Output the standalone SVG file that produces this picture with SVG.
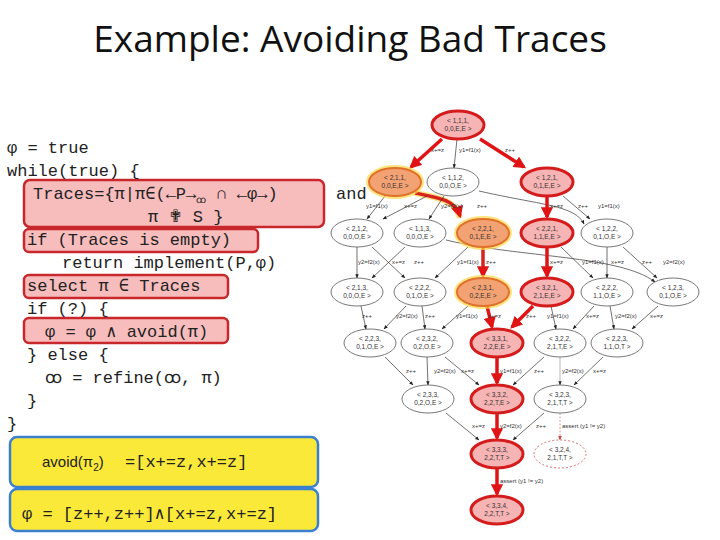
<svg xmlns="http://www.w3.org/2000/svg" width="720" height="540" viewBox="0 0 720 540">
<style>
.code{font-family:"Liberation Mono","DejaVu Sans Mono",monospace;font-size:17px;fill:#222}
.hb{fill:#f7bcbc;stroke:#c8282c;stroke-width:2.5}
.yb{fill:#fbe93a;stroke:#3a7fd0;stroke-width:2.5}
.n{fill:#fff;stroke:#555;stroke-width:0.8}
.r{fill:#f7b4b4;stroke:#d41c1c;stroke-width:3}
.o{fill:#f3a273;stroke:#e0702a;stroke-width:2}
.og{fill:none;stroke:#ffd84a;stroke-width:6;opacity:0.7}
.d{fill:#fff;stroke:#d06060;stroke-width:0.9;stroke-dasharray:2,2}
.nt{font-family:"Liberation Sans",Arial,sans-serif;font-size:6.5px;fill:#333;text-anchor:middle}
.e{stroke:#333;stroke-width:0.7;fill:none;marker-end:url(#ab)}
.el{stroke:#999;stroke-width:0.7;fill:none;marker-end:url(#ab)}
.er{stroke:#e01414;stroke-width:3.5;fill:none;marker-end:url(#ar)}
.eo{stroke:#d8221c;stroke-width:3.5;fill:none;marker-end:url(#ar)}
.ed{stroke:#e08080;stroke-width:0.8;fill:none;stroke-dasharray:2,1.5;marker-end:url(#ad)}
.lb{font-family:"Liberation Sans",Arial,sans-serif;font-size:6px;fill:#333}
</style>
<defs>
<marker id="ab" viewBox="0 0 10 10" refX="9" refY="5" markerWidth="6" markerHeight="6" orient="auto"><path d="M0,1L10,5L0,9z" fill="#222"/></marker>
<marker id="ar" viewBox="0 0 10 10" refX="8" refY="5" markerWidth="3.5" markerHeight="3.5" orient="auto"><path d="M0,0L10,5L0,10z" fill="#e01414"/></marker>
<marker id="ad" viewBox="0 0 10 10" refX="9" refY="5" markerWidth="6" markerHeight="6" orient="auto"><path d="M0,1L10,5L0,9z" fill="#d04040"/></marker>
</defs>
<rect width="720" height="540" fill="#fff"/>
<text x="350" y="52" text-anchor="middle" font-family="'Open Sans','Liberation Sans',sans-serif" font-size="37" fill="#111">Example: Avoiding Bad Traces</text>

<g id="code">
<rect class="hb" x="24" y="180" width="300" height="47" rx="6"/>
<rect class="hb" x="24" y="229" width="234" height="23" rx="5"/>
<rect class="hb" x="24" y="275" width="204" height="23" rx="5"/>
<rect class="hb" x="24" y="318" width="204" height="25" rx="5"/>
<text class="code" x="7" y="153">φ = true</text>
<text class="code" x="7" y="176">while(true) {</text>
<text class="code" x="33" y="199">Traces={π|π∈(←P→<tspan font-size="10" dy="4">ꝏ</tspan><tspan dy="-4"> ∩ ←φ→)</tspan></text>
<text class="code" x="336" y="199">and</text>
<text class="code" x="148" y="222">π <tspan font-family="'DejaVu Sans',sans-serif">✟</tspan> S }</text>
<text class="code" x="27" y="245">if (Traces is empty)</text>
<text class="code" x="62" y="268">return implement(P,φ)</text>
<text class="code" x="27" y="291">select π ∈ Traces</text>
<text class="code" x="27" y="314">if (?) {</text>
<text class="code" x="45" y="337">φ = φ ∧ avoid(π)</text>
<text class="code" x="27" y="360">} else {</text>
<text class="code" x="45" y="383">ꝏ = refine(ꝏ, π)</text>
<text class="code" x="27" y="406">}</text>
<text class="code" x="7" y="429">}</text>
</g>
<g id="box1">
<rect class="yb" x="10" y="437" width="308" height="50" rx="7"/>
<text x="42" y="467" font-family="'Liberation Sans',Arial,sans-serif" font-size="15" fill="#222">avoid(π<tspan font-size="10" dy="4">2</tspan><tspan dy="-4">)</tspan></text>
<text class="code" x="125" y="467" font-size="15">=[x+=z,x+=z]</text>
</g>
<g id="box2">
<rect class="yb" x="10" y="489" width="308" height="42" rx="7"/>
<text class="code" x="22" y="519" font-size="15">φ = [z++,z++]∧[x+=z,x+=z]</text>
</g>

<g id="connectors">
<line class="er" x1="442" y1="139" x2="411" y2="167"/>
<line class="e" x1="457" y1="139" x2="454" y2="168"/>
<line class="er" x1="480" y1="139" x2="524" y2="167"/>
<line class="e" x1="385" y1="196" x2="367" y2="219"/>
<path class="og" d="M415,193 C440,198 455,200 460,218"/>
<path class="eo" d="M415,193 C440,198 455,200 460,216"/>
<line class="e" x1="427" y1="196" x2="383" y2="219"/>
<line class="e" x1="444" y1="196" x2="429" y2="219"/>
<path class="e" d="M479,191 C540,205 575,205 584,224"/>
<line class="er" x1="547" y1="196" x2="547" y2="217"/>
<line class="e" x1="563" y1="196" x2="590" y2="219"/>
<line class="e" x1="357" y1="247" x2="357" y2="278"/>
<line class="e" x1="372" y1="247" x2="405" y2="278"/>
<line class="e" x1="405" y1="247" x2="372" y2="278"/>
<path class="e" d="M446,240 C520,258 620,255 655,282"/>
<line class="eo" x1="483" y1="247" x2="483" y2="276"/>
<line class="e" x1="468" y1="247" x2="435" y2="278"/>
<line class="er" x1="547" y1="247" x2="547" y2="276"/>
<line class="e" x1="561" y1="247" x2="593" y2="278"/>
<line class="e" x1="607" y1="247" x2="607" y2="278"/>
<line class="e" x1="623" y1="247" x2="657" y2="278"/>
<line class="e" x1="361" y1="306" x2="366" y2="329"/>
<line class="e" x1="406" y1="306" x2="384" y2="329"/>
<line class="e" x1="422" y1="306" x2="425" y2="329"/>
<line class="e" x1="468" y1="306" x2="442" y2="329"/>
<line class="er" x1="487" y1="306" x2="492" y2="327"/>
<line class="er" x1="533" y1="306" x2="512" y2="327"/>
<line class="e" x1="551" y1="306" x2="556" y2="329"/>
<line class="e" x1="594" y1="306" x2="573" y2="329"/>
<line class="e" x1="610" y1="306" x2="614" y2="329"/>
<line class="e" x1="658" y1="306" x2="632" y2="329"/>
<line class="e" x1="385" y1="357" x2="413" y2="385"/>
<line class="e" x1="427" y1="357" x2="428" y2="385"/>
<line class="e" x1="445" y1="357" x2="479" y2="385"/>
<line class="er" x1="497" y1="357" x2="497" y2="383"/>
<line class="e" x1="544" y1="357" x2="513" y2="385"/>
<line class="el" x1="560" y1="357" x2="560" y2="385"/>
<line class="e" x1="603" y1="357" x2="574" y2="385"/>
<line class="e" x1="446" y1="413" x2="479" y2="440"/>
<line class="er" x1="497" y1="413" x2="497" y2="438"/>
<line class="e" x1="544" y1="413" x2="513" y2="440"/>
<line class="ed" x1="560" y1="413" x2="560" y2="440"/>
<line class="er" x1="497" y1="468" x2="497" y2="494"/>
<g class="lb">
<text x="431" y="152">x+=z</text><text x="459" y="152">y1=f1(x)</text><text x="505" y="152">z++</text>
<text x="366" y="208">y1=f1(x)</text><text x="404" y="208">x+=z</text><text x="441" y="208">y2=f2(x)</text><text x="477" y="208">z++</text>
<text x="550" y="208">x+=z</text><text x="578" y="208">z++</text><text x="598" y="208">y1=f1(x)</text>
<text x="358" y="264">y2=f2(x)</text><text x="392" y="264">x+=z</text><text x="414" y="264">z++</text><text x="457" y="264">y1=f1(x)</text><text x="486" y="264">z++</text>
<text x="550" y="264">x+=z</text><text x="582" y="264">y1=f1(x)</text><text x="611" y="264">x+=z</text><text x="642" y="264">z++</text><text x="663" y="264">y2=f2(x)</text>
<text x="362" y="318">z++</text><text x="396" y="318">y2=f2(x)</text><text x="425" y="318">z++</text><text x="456" y="318">y1=f1(x)</text><text x="488" y="318">x+=z</text>
<text x="526" y="318">z++</text><text x="547" y="318">y1=f1(x)</text><text x="586" y="318">x+=z</text><text x="615" y="318">y2=f2(x)</text><text x="650" y="318">x+=z</text>
<text x="406" y="373">z++</text><text x="434" y="373">y2=f2(x)</text><text x="461" y="373">x+=z</text><text x="500" y="373">y1=f1(x)</text><text x="534" y="373">z++</text>
<text x="562" y="373">y2=f2(x)</text><text x="593" y="373">x+=z</text>
<text x="472" y="428">x+=z</text><text x="500" y="428">y2=f2(x)</text><text x="536" y="428">z++</text><text x="562" y="428">assert (y1 != y2)</text>
<text x="500" y="483">assert (y1 != y2)</text>
</g>
</g>

<g id="n111"><ellipse class="r" cx="458" cy="125" rx="26" ry="14"/><text class="nt" x="458" y="123">&lt; 1,1,1,</text><text class="nt" x="458" y="131">0,0,E,E &gt;</text></g>
<g id="n211"><ellipse class="og" cx="395" cy="182" rx="26" ry="14"/><ellipse class="o" cx="395" cy="182" rx="26" ry="14"/><text class="nt" x="395" y="180">&lt; 2,1,1,</text><text class="nt" x="395" y="188">0,0,E,E &gt;</text></g>
<g id="n112"><ellipse class="n" cx="453" cy="182" rx="26" ry="14"/><text class="nt" x="453" y="180">&lt; 1,1,2,</text><text class="nt" x="453" y="188">0,0,O,E &gt;</text></g>
<g id="n121"><ellipse class="r" cx="547" cy="182" rx="26" ry="14"/><text class="nt" x="547" y="180">&lt; 1,2,1,</text><text class="nt" x="547" y="188">0,1,E,E &gt;</text></g>
<g id="n212"><ellipse class="n" cx="357" cy="233" rx="26" ry="14"/><text class="nt" x="357" y="231">&lt; 2,1,2,</text><text class="nt" x="357" y="239">0,0,O,E &gt;</text></g>
<g id="n113"><ellipse class="n" cx="420" cy="233" rx="26" ry="14"/><text class="nt" x="420" y="231">&lt; 1,1,3,</text><text class="nt" x="420" y="239">0,0,O,E &gt;</text></g>
<g id="n221a"><ellipse class="og" cx="483" cy="233" rx="26" ry="14"/><ellipse class="o" cx="483" cy="233" rx="26" ry="14"/><text class="nt" x="483" y="231">&lt; 2,2,1,</text><text class="nt" x="483" y="239">0,1,E,E &gt;</text></g>
<g id="n221b"><ellipse class="r" cx="547" cy="233" rx="26" ry="14"/><text class="nt" x="547" y="231">&lt; 2,2,1,</text><text class="nt" x="547" y="239">1,1,E,E &gt;</text></g>
<g id="n122"><ellipse class="n" cx="607" cy="233" rx="26" ry="14"/><text class="nt" x="607" y="231">&lt; 1,2,2,</text><text class="nt" x="607" y="239">0,1,O,E &gt;</text></g>
<g id="n213"><ellipse class="n" cx="357" cy="292" rx="26" ry="14"/><text class="nt" x="357" y="290">&lt; 2,1,3,</text><text class="nt" x="357" y="298">0,0,O,E &gt;</text></g>
<g id="n222a"><ellipse class="n" cx="420" cy="292" rx="26" ry="14"/><text class="nt" x="420" y="290">&lt; 2,2,2,</text><text class="nt" x="420" y="298">0,1,O,E &gt;</text></g>
<g id="n231"><ellipse class="og" cx="483" cy="292" rx="26" ry="14"/><ellipse class="o" cx="483" cy="292" rx="26" ry="14"/><text class="nt" x="483" y="290">&lt; 2,3,1,</text><text class="nt" x="483" y="298">0,2,E,E &gt;</text></g>
<g id="n321"><ellipse class="r" cx="547" cy="292" rx="26" ry="14"/><text class="nt" x="547" y="290">&lt; 3,2,1,</text><text class="nt" x="547" y="298">2,1,E,E &gt;</text></g>
<g id="n222b"><ellipse class="n" cx="607" cy="292" rx="26" ry="14"/><text class="nt" x="607" y="290">&lt; 2,2,2,</text><text class="nt" x="607" y="298">1,1,O,E &gt;</text></g>
<g id="n123"><ellipse class="n" cx="673" cy="292" rx="26" ry="14"/><text class="nt" x="673" y="290">&lt; 1,2,3,</text><text class="nt" x="673" y="298">0,1,O,E &gt;</text></g>
<g id="n223a"><ellipse class="n" cx="370" cy="343" rx="26" ry="14"/><text class="nt" x="370" y="341">&lt; 2,2,3,</text><text class="nt" x="370" y="349">0,1,O,E &gt;</text></g>
<g id="n232"><ellipse class="n" cx="427" cy="343" rx="26" ry="14"/><text class="nt" x="427" y="341">&lt; 2,3,2,</text><text class="nt" x="427" y="349">0,2,O,E &gt;</text></g>
<g id="n331"><ellipse class="r" cx="497" cy="343" rx="26" ry="14"/><text class="nt" x="497" y="341">&lt; 3,3,1,</text><text class="nt" x="497" y="349">2,2,E,E &gt;</text></g>
<g id="n322"><ellipse class="n" cx="560" cy="343" rx="26" ry="14"/><text class="nt" x="560" y="341">&lt; 3,2,2,</text><text class="nt" x="560" y="349">2,1,T,E &gt;</text></g>
<g id="n223b"><ellipse class="n" cx="617" cy="343" rx="26" ry="14"/><text class="nt" x="617" y="341">&lt; 2,2,3,</text><text class="nt" x="617" y="349">1,1,O,T &gt;</text></g>
<g id="n233"><ellipse class="n" cx="428" cy="399" rx="26" ry="14"/><text class="nt" x="428" y="397">&lt; 2,3,3,</text><text class="nt" x="428" y="405">0,2,O,E &gt;</text></g>
<g id="n332"><ellipse class="r" cx="497" cy="399" rx="26" ry="14"/><text class="nt" x="497" y="397">&lt; 3,3,2,</text><text class="nt" x="497" y="405">2,2,T,E &gt;</text></g>
<g id="n323"><ellipse class="n" cx="560" cy="399" rx="26" ry="14"/><text class="nt" x="560" y="397">&lt; 3,2,3,</text><text class="nt" x="560" y="405">2,1,T,T &gt;</text></g>
<g id="n333"><ellipse class="r" cx="497" cy="454" rx="26" ry="14"/><text class="nt" x="497" y="452">&lt; 3,3,3,</text><text class="nt" x="497" y="460">2,2,T,T &gt;</text></g>
<g id="n324"><ellipse class="d" cx="560" cy="454" rx="26" ry="14"/><text class="nt" x="560" y="452">&lt; 3,2,4,</text><text class="nt" x="560" y="460">2,1,T,T &gt;</text></g>
<g id="n334"><ellipse class="r" cx="497" cy="510" rx="26" ry="14"/><text class="nt" x="497" y="508">&lt; 3,3,4,</text><text class="nt" x="497" y="516">2,2,T,T &gt;</text></g>
</svg>
